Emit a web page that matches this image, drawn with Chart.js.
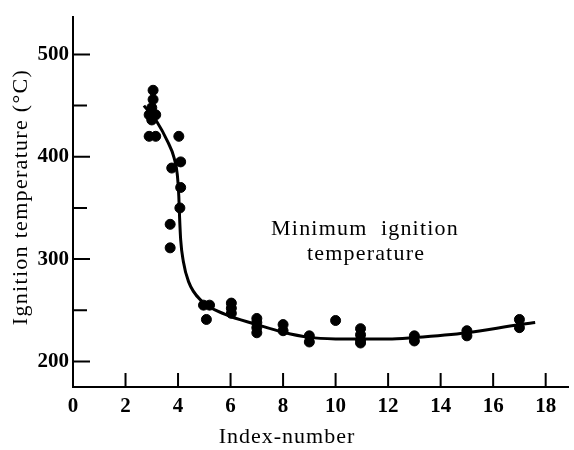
<!DOCTYPE html>
<html>
<head>
<meta charset="utf-8">
<script src="https://cdn.jsdelivr.net/npm/chart.js@4.4.0/dist/chart.umd.min.js"></script>
<style>
  body { margin: 0; background: #fff; }
  #wrap { width: 574px; height: 450px; }
</style>
</head>
<body>
<div id="wrap"><canvas id="chart"></canvas></div>
<script>
// measured points (index-number, ignition temperature)
var pointX = [3.05, 3.05, 3.0, 2.9, 3.15, 3.0, 2.9, 3.15,
              4.03, 4.1, 3.76, 4.1, 4.07, 3.7, 3.7,
              4.97, 5.2, 5.08,
              6.03, 6.03, 6.03,
              7, 7, 7, 7,
              8, 8,
              9, 9,
              10,
              10.95, 10.95, 10.95, 10.95,
              13, 13,
              15, 15,
              17, 17];
var pointY = [465, 456, 448, 441, 441, 436, 420, 420,
              420, 395, 389, 370, 350, 334, 311,
              255, 255, 241,
              257, 252, 247,
              242, 238, 233, 228,
              236, 230,
              225, 219,
              240,
              232, 226, 221, 218,
              225, 220,
              230, 225,
              241, 233];

// fitted curve
var curveX = [2.7, 3.2, 3.6, 3.85, 3.97, 4.03, 4.06, 4.1, 4.2, 4.4, 4.9, 5.8, 7, 8, 9, 10, 11, 12, 13, 15, 17, 17.6];
var curveY = [450, 434, 415, 399, 383, 361, 340, 319, 298, 278, 259, 246, 236, 228.5, 223.5, 222, 221.8, 221.8, 223.3, 228, 236, 238];

var xTicks = [0, 2, 4, 6, 8, 10, 12, 14, 16, 18];
var yTicks = [200, 300, 400, 500];

var serif = "'Liberation Serif', 'Times New Roman', serif";

function toXY(xs, ys) {
  return xs.map(function(x, i) { return { x: x, y: ys[i] }; });
}

var frame = {
  id: 'frame',
  afterDraw: function(chart) {
    var ctx = chart.ctx;
    var xs = chart.scales.x, ys = chart.scales.y;
    ctx.save();
    ctx.strokeStyle = '#000';
    ctx.lineWidth = 2;
    ctx.beginPath();
    xs.ticks.forEach(function(t) {
      if (t.value === 0) return;
      var px = xs.getPixelForValue(t.value);
      ctx.moveTo(px, xs.top);
      ctx.lineTo(px, xs.top - 14);
    });
    ys.ticks.forEach(function(t) {
      var py = ys.getPixelForValue(t.value);
      var len = yTicks.indexOf(t.value) >= 0 ? 17 : 14;
      ctx.moveTo(ys.right, py);
      ctx.lineTo(ys.right + len, py);
    });
    ctx.stroke();

    ctx.fillStyle = '#000';
    ctx.font = '22px ' + serif;
    ctx.textAlign = 'center';
    ctx.textBaseline = 'middle';
    ctx.letterSpacing = '1px';
    ctx.fillText('Index-number', 287, 437);
    ctx.letterSpacing = '1.2px';
    ctx.fillText('Minimum  ignition', 365, 229);
    ctx.fillText('temperature', 366, 254);
    ctx.letterSpacing = '1.3px';
    ctx.translate(21, 197);
    ctx.rotate(-Math.PI / 2);
    ctx.fillText('Ignition temperature (°C)', 0, 0);
    ctx.restore();
  }
};

var ctx = document.getElementById('chart');

var chart = new Chart(ctx, {
  type: 'scatter',
  data: {
    datasets: [
      {
        label: 'Minimum ignition temperature',
        data: toXY(curveX, curveY),
        showLine: true,
        borderColor: '#000',
        borderWidth: 3,
        pointRadius: 0,
        cubicInterpolationMode: 'monotone'
      },
      {
        label: 'Measured',
        data: toXY(pointX, pointY),
        backgroundColor: '#000',
        borderColor: '#000',
        pointRadius: 5
      }
    ]
  },
  options: {
    responsive: true,
    maintainAspectRatio: false,
    animation: false,
    layout: { padding: { top: 10, right: 0, left: 0, bottom: 0 } },
    plugins: {
      legend: { display: false },
      tooltip: { enabled: false }
    },
    scales: {
      x: {
        type: 'linear',
        min: 0,
        max: 18.85,
        afterFit: function(s) { s.height = 63; },
        afterBuildTicks: function(s) { s.ticks = xTicks.map(function(v) { return { value: v }; }); },
        grid: { display: false, drawTicks: false },
        border: { display: true, color: '#000', width: 2 },
        ticks: {
          color: '#000',
          padding: 7,
          maxRotation: 0,
          font: { family: serif, size: 21, weight: 'bold' }
        }
      },
      y: {
        min: 175,
        max: 537,
        afterFit: function(s) { s.width = 73; },
        grid: { display: false, drawTicks: false },
        border: { display: true, color: '#000', width: 2 },
        ticks: {
          stepSize: 50,
          includeBounds: false,
          color: '#000',
          padding: 4,
          font: { family: serif, size: 21, weight: 'bold' },
          callback: function(v) { return yTicks.indexOf(v) >= 0 ? v : ''; }
        }
      }
    }
  },
  plugins: [frame]
});
</script>
</body>
</html>
